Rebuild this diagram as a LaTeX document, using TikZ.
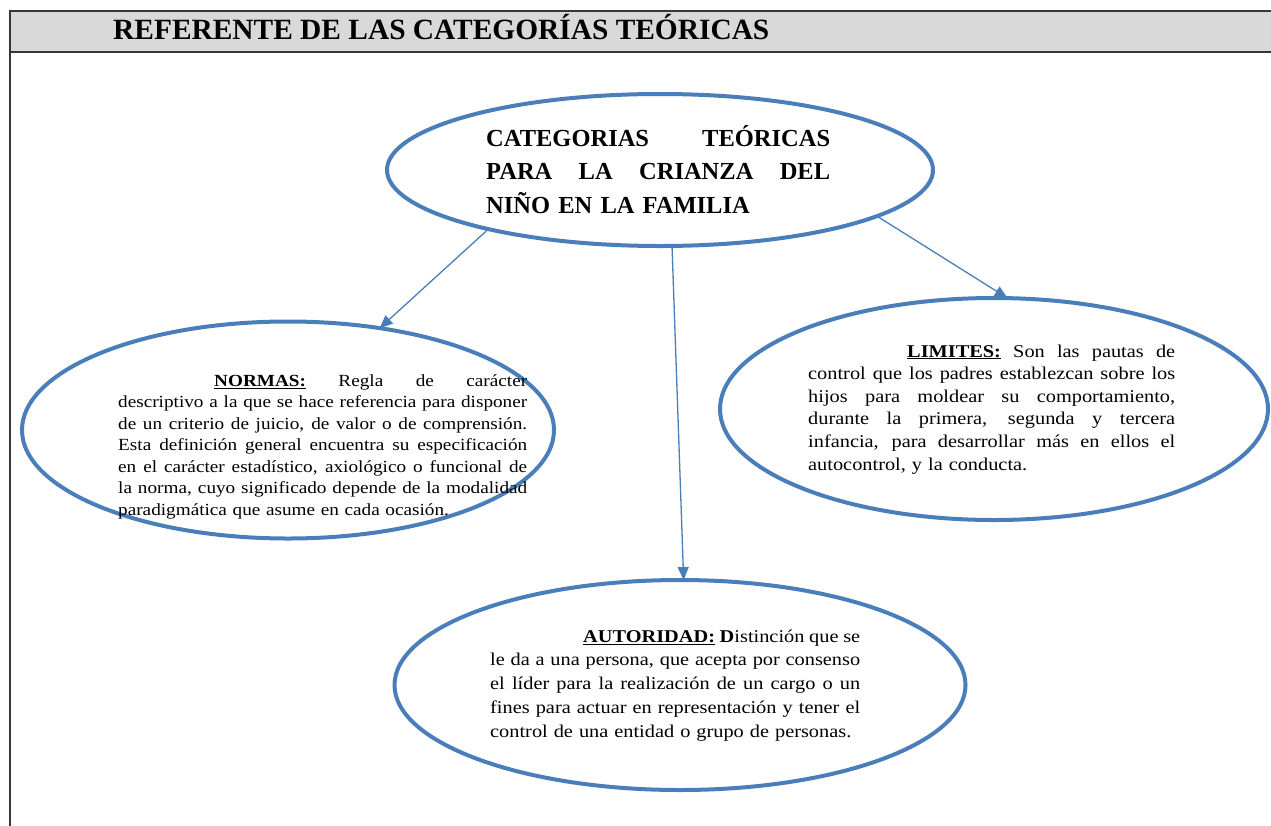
\documentclass[tikz,border=0pt]{standalone}
\usepackage{fontspec}
\setmainfont{Liberation Serif}
\newfontfamily\bodyfont[FakeStretch=1.13]{Liberation Serif}
\usetikzlibrary{shapes.geometric,arrows.meta}
\definecolor{ellblue}{RGB}{74,126,187}
\definecolor{hdrgray}{RGB}{217,217,217}
\definecolor{hdrline}{RGB}{55,55,55}
\newcommand{\jl}[2]{\makebox[#1][s]{\spaceskip=0pt\xspaceskip=0pt #2}}
\begin{document}
\begin{tikzpicture}[x=1pt,y=-1pt,
  oval/.style={ellipse, draw=ellblue, line width=4pt, inner sep=0pt, outer sep=0pt},
  conn/.style={draw=ellblue, line width=1.3pt, -{Triangle[length=13pt,width=11pt]}},
  blocktext/.style={anchor=north west, inner sep=0pt, align=left},
]
\useasboundingbox (0,0) rectangle (1271,825);
\fill[white] (0,0) rectangle (1271,825);
% header band
\fill[hdrgray] (10,11) rectangle (1275,52);
\draw[hdrline, line width=2.5pt] (1275,11) -- (10,11) -- (10,826);
\draw[hdrline, line width=2.5pt] (10,52) -- (1275,52);
\node[anchor=base west, inner sep=0pt, font=\fontsize{29.4}{36}\selectfont\bfseries] (title) at (113,39.5) {REFERENTE DE LAS CATEGORÍAS TEÓRICAS};

% ellipses
\node[oval, minimum width=546pt, minimum height=152pt] (cen) at (660,170) {};
\node[oval, minimum width=532pt, minimum height=217pt] (nor) at (288,430) {};
\node[oval, minimum width=548pt, minimum height=222pt] (lim) at (994,409) {};
\node[oval, minimum width=571pt, minimum height=210pt] (aut) at (680,685) {};

% connectors
\draw[conn] (cen.199) -- (nor.48);
\draw[conn] (cen.279) -- (aut.88);
\draw[conn] (cen.348) -- (lim.83);

% texts
\node[blocktext, text width=344pt, font={\fontsize{24.5}{33.5}\selectfont\bfseries}] (centxt) at (486,122.5) {%
\strut\jl{344pt}{CATEGORIAS TEÓRICAS}\\
\jl{344pt}{PARA LA CRIANZA DEL}\\
NIÑO EN LA FAMILIA};

\node[blocktext, text width=409pt, font={\fontsize{17}{21.5}\bodyfont}] (nortxt) at (118,371) {%
\strut\jl{409pt}{\hspace*{96pt}\underline{\textbf{NORMAS:}} Regla de carácter}\\
\jl{409pt}{descriptivo a la que se hace referencia para disponer}\\
\jl{409pt}{de un criterio de juicio, de valor o de comprensión.}\\
\jl{409pt}{Esta definición general encuentra su especificación}\\
\jl{409pt}{en el carácter estadístico, axiológico o funcional de}\\
\jl{409pt}{la norma, cuyo significado depende de la modalidad}\\
paradigmática que asume en cada ocasión.};

\node[blocktext, text width=367pt, font={\fontsize{18}{22.6}\bodyfont}] (limtxt) at (808,341) {%
\strut\jl{367pt}{\hspace*{99pt}\underline{\textbf{LIMITES:}} Son las pautas de}\\
\jl{367pt}{control que los padres establezcan sobre los}\\
\jl{367pt}{hijos para moldear su comportamiento,}\\
\jl{367pt}{durante la primera, segunda y tercera}\\
\jl{367pt}{infancia, para desarrollar más en ellos el}\\
autocontrol, y la conducta.};

\node[blocktext, text width=370pt, font={\fontsize{18}{23.7}\bodyfont}] (auttxt) at (490,625.4) {%
\strut\jl{370pt}{\hspace*{93pt}\underline{\textbf{AUTORIDAD:}} \textbf{D}istinción que se}\\
\jl{370pt}{le da a una persona, que acepta por consenso}\\
\jl{370pt}{el líder para la realización de un cargo o un}\\
\jl{370pt}{fines para actuar en representación y tener el}\\
control de una entidad o grupo de personas.};
\end{tikzpicture}
\end{document}
